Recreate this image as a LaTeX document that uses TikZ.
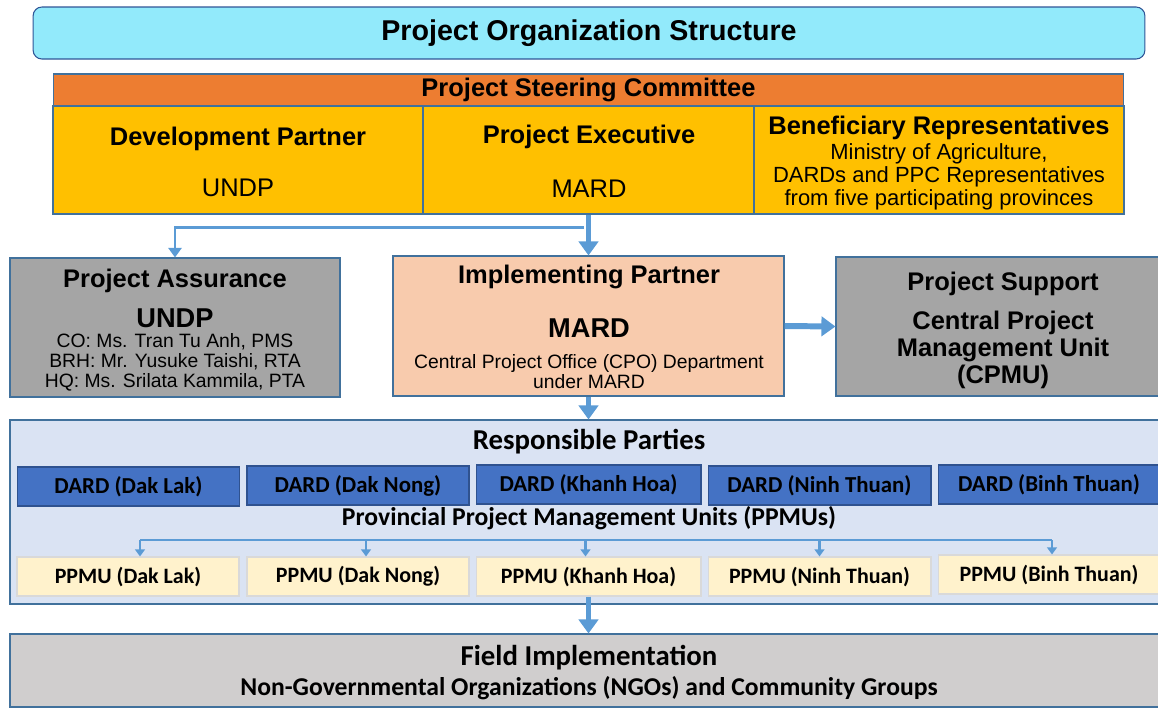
\documentclass[tikz,border=0pt]{standalone}
\usepackage{fontspec}
\setmainfont{Liberation Sans}
\newfontfamily\calibri{Carlito}
\usetikzlibrary{arrows.meta, fit}

\definecolor{titlecyan}{HTML}{92EAFB}
\definecolor{titleline}{HTML}{2F5597}
\definecolor{steerorange}{HTML}{ED7D31}
\definecolor{memberyellow}{HTML}{FFC000}
\definecolor{supportgrey}{HTML}{A5A5A5}
\definecolor{implpeach}{HTML}{F8CBAD}
\definecolor{partyblue}{HTML}{DAE3F3}
\definecolor{dardblue}{HTML}{4472C4}
\definecolor{dardline}{HTML}{2F528F}
\definecolor{ppmucream}{HTML}{FFF2CC}
\definecolor{ppmuline}{HTML}{D9D9D9}
\definecolor{fieldgrey}{HTML}{D0CECE}
\definecolor{flowblue}{HTML}{5B9BD5}
\definecolor{edgeblue}{HTML}{41719C}

\begin{document}
\begin{tikzpicture}[x=0.02cm, y=-0.02cm,
    box/.style={draw=edgeblue, line width=0.6pt, inner sep=0pt},
    lbl/.style={font=\bfseries\fontsize{14.5}{16}\selectfont, align=center},
    big/.style={font=\bfseries\fontsize{15.5}{17}\selectfont},
    body/.style={font=\fontsize{14.5}{16}\selectfont},
    note/.style={font=\fontsize{12.5}{13}\selectfont, align=center},
    sub/.style={font=\fontsize{11}{11.3}\selectfont, align=center},
    cal/.style={font=\calibri\bfseries\fontsize{14.6}{16}\selectfont},
    calbig/.style={font=\calibri\bfseries\fontsize{16.4}{18}\selectfont},
    dard/.style={box, draw=dardline, fill=dardblue, minimum width=4.45cm, minimum height=0.78cm,
                 font=\calibri\bfseries\fontsize{13}{14}\selectfont},
    ppmu/.style={box, draw=ppmuline, fill=ppmucream, minimum width=4.45cm, minimum height=0.78cm,
                 font=\calibri\bfseries\fontsize{12.5}{14}\selectfont},
    fat/.style={color=flowblue, line width=3.4pt, -{Triangle[width=11pt, length=8pt]}},
    slim/.style={color=flowblue, line width=1.7pt, -{Triangle[width=7.5pt, length=5.5pt]}},
    tick/.style={color=flowblue, line width=1.5pt, -{Triangle[width=5.5pt, length=4pt]}}]
    \useasboundingbox (0,0) rectangle (1158,711);

    \node[box, draw=titleline, fill=titlecyan, rounded corners=5pt, minimum width=22.24cm, minimum height=1.04cm,
          font=\bfseries\fontsize{16.3}{18}\selectfont] (title) at (589,33) {Project Organization Structure};

    % steering committee
    \node[box, fill=steerorange, minimum width=21.42cm, minimum height=0.64cm, lbl] (psc) at (588.5,90) {Project Steering Committee};
    \node[box, fill=memberyellow, fit={(53,106) (423,214)}] (devp) {};
    \node[box, fill=memberyellow, fit={(423,106) (754,214)}] (pexec) {};
    \node[box, fill=memberyellow, fit={(754,106) (1124,214)}] (benef) {};
    \node[lbl] (devphead) at (238,139) {Development Partner};
    \node[body] (devpname) at (238,188) {UNDP};
    \node[lbl] (pexechead) at (589,137) {Project Executive};
    \node[body] (pexecname) at (589,189) {MARD};
    \node[lbl] (benefhead) at (939,128) {Beneficiary Representatives};
    \node[note] (benefnames) at (939,177) {Ministry of Agriculture,\\DARDs and PPC Representatives\\from five participating provinces};

    % assurance, implementing partner, support
    \node[box, fill=supportgrey, fit={(10,258) (340,397)}] (assur) {};
    \node[lbl] (assurhead) at (175,281) {Project Assurance};
    \node[big] (assurname) at (175,318) {UNDP};
    \node[sub] (assurstaff) at (175,362) {CO: Ms. Tran Tu Anh, PMS\\BRH: Mr. Yusuke Taishi, RTA\\HQ: Ms. Srilata Kammila, PTA};

    \node[box, fill=implpeach, fit={(393,256) (784,396)}] (impl) {};
    \node[lbl] (implhead) at (589,277) {Implementing Partner};
    \node[big] (implname) at (589,328) {MARD};
    \node[sub] (impldept) at (589,372) {Central Project Office (CPO) Department\\under MARD};

    \node[box, fill=supportgrey, fit={(836,257) (1160,396)}] (supp) {};
    \node[lbl] (supphead) at (1003,284) {Project Support};
    \node[lbl, font=\bfseries\fontsize{14.5}{15.5}\selectfont] (suppname) at (1003,350) {Central Project\\Management Unit\\(CPMU)};

    % responsible parties
    \node[box, fill=partyblue, fit={(10,420) (1160,604)}] (resp) {};
    \node[calbig] (resphead) at (589,442) {Responsible Parties};
    \node[dard] (dard1) at (128.5,486.5) {DARD (Dak Lak)};
    \node[dard, minimum width=4.44cm] (dard2) at (358,485.5) {DARD (Dak Nong)};
    \node[dard, minimum width=4.5cm] (dard3) at (588.5,484.5) {DARD (Khanh Hoa)};
    \node[dard, minimum width=4.46cm] (dard4) at (819.5,485.5) {DARD (Ninh Thuan)};
    \node[dard, minimum width=4.44cm] (dard5) at (1049,484.5) {DARD (Binh Thuan)};
    \node[cal] (ppmuhead) at (589,518) {Provincial Project Management Units (PPMUs)};
    \node[ppmu, minimum width=4.44cm] (ppmu1) at (128,576.5) {PPMU (Dak Lak)};
    \node[ppmu, minimum width=4.44cm] (ppmu2) at (358,576.5) {PPMU (Dak Nong)};
    \node[ppmu, minimum width=4.5cm] (ppmu3) at (588.5,576.5) {PPMU (Khanh Hoa)};
    \node[ppmu, minimum width=4.46cm] (ppmu4) at (819.5,576.5) {PPMU (Ninh Thuan)};
    \node[ppmu, minimum width=4.44cm] (ppmu5) at (1049,574.5) {PPMU (Binh Thuan)};

    \node[box, fill=fieldgrey, fit={(10,634) (1160,707)}] (field) {};
    \node[calbig] (fieldhead) at (589,658) {Field Implementation};
    \node[cal] (fieldgroups) at (589,688) {Non-Governmental Organizations (NGOs) and Community Groups};

    % flows
    \coordinate (split) at (584,227);
    \coordinate (bus) at (589,540);
    \draw[slim] (split) -| (assur.north);
    \draw[fat] (pexec.south) -- (impl.north);
    \draw[fat] (impl.east) -- (supp.west);
    \draw[fat] (impl.south) -- (impl.south |- resp.north);
    \draw[color=flowblue, line width=1.5pt] ([xshift=0.24cm]ppmu1.north |- bus) -- ([xshift=0.06cm]ppmu5.north |- bus);
    \draw[tick] ([xshift=0.24cm]ppmu1.north |- bus) -- ([xshift=0.24cm]ppmu1.north);
    \draw[tick] ([xshift=0.16cm]ppmu2.north |- bus) -- ([xshift=0.16cm]ppmu2.north);
    \draw[tick] ([xshift=-0.06cm]ppmu3.north |- bus) -- ([xshift=-0.06cm]ppmu3.north);
    \draw[tick] (ppmu4.north |- bus) -- (ppmu4.north);
    \draw[tick] ([xshift=0.06cm]ppmu5.north |- bus) -- ([xshift=0.06cm]ppmu5.north);
    \draw[fat] (ppmu3.south) -- (ppmu3.south |- field.north);
\end{tikzpicture}
\end{document}
